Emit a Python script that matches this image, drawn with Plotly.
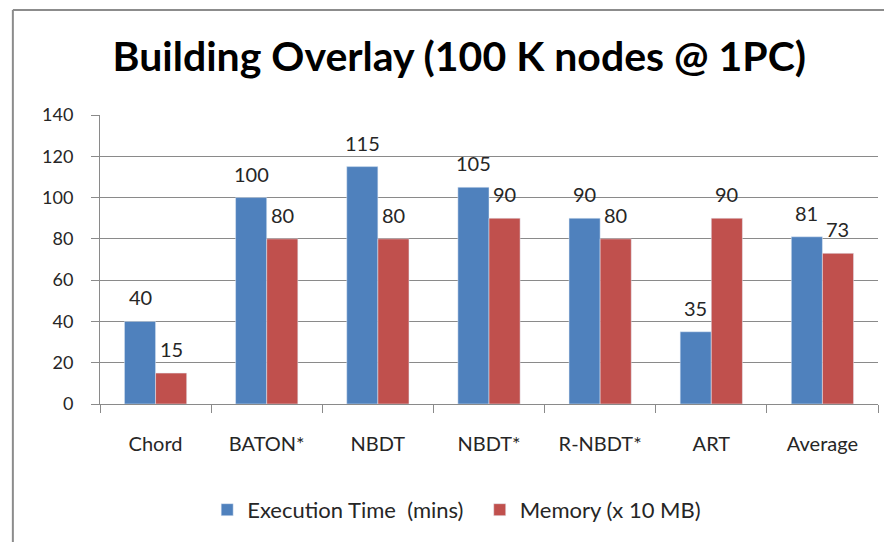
import plotly.graph_objects as go

categories = ["Chord", "BATON*", "NBDT", "NBDT*", "R-NBDT*", "ART", "Average"]
exec_time = [40, 100, 115, 105, 90, 35, 81]
memory = [15, 80, 80, 90, 80, 90, 73]
y_ticks = [0, 20, 40, 60, 80, 100, 120, 140]

font_family = "Lato, Open Sans, sans-serif"
txt = "#262626"
grid = "#8a8a8a"

fig = go.Figure()
fig.add_trace(go.Bar(x=categories, y=exec_time, name="Execution Time  (mins)  ",
                     marker_color="#4F81BD"))
fig.add_trace(go.Bar(x=categories, y=memory, name="Memory (x 10 MB)",
                     marker_color="#C0504D"))

# value labels sit a bit higher above the bars than plotly's outside text
bar_px = 111 * (1 - 0.44) / 2
for series, dx in [(exec_time, -bar_px / 2), (memory, bar_px / 2)]:
    for cat, v in zip(categories, series):
        fig.add_annotation(x=cat, y=v, text=str(v), showarrow=False, xshift=dx, yshift=10,
                           yanchor="bottom", font=dict(size=20, color=txt))

fig.update_layout(
    width=892, height=542,
    paper_bgcolor="white", plot_bgcolor="white",
    font=dict(family=font_family, size=18, color=txt),
    title=dict(text="<b>Building Overlay (100 K nodes @ 1PC)</b>", x=0.506, xanchor="center",
               y=0.91, yanchor="middle", font=dict(size=41, color="black")),
    barmode="group", bargap=0.44, bargroupgap=0,
    margin=dict(l=92, r=22, t=107, b=146, autoexpand=False),
    legend=dict(orientation="h", xref="container", yref="container", x=0.503, xanchor="center",
                y=0.074, yanchor="middle", font=dict(size=22), itemwidth=30),
    shapes=[dict(type="line", xref="paper", yref="paper", x0=-0.112, x1=-0.112, y0=-0.7, y1=1.363,
                 line=dict(color="#8c8c8c", width=2)),
            dict(type="line", xref="paper", yref="paper", x0=-0.112, x1=1.2, y0=1.363, y1=1.363,
                 line=dict(color="#8c8c8c", width=2))],
)
fig.update_yaxes(range=[0, 140], tickvals=y_ticks, showgrid=True, gridcolor=grid, gridwidth=1,
                 showline=True, linecolor=grid, ticks="outside", ticklen=8, tickcolor=grid,
                 zeroline=False, tickfont=dict(size=18), ticklabelstandoff=14, automargin=False)
fig.update_xaxes(showgrid=False, showline=True, linecolor=grid, ticks="outside",
                 tickson="boundaries", ticklen=8, tickcolor=grid, tickfont=dict(size=20),
                 ticklabelstandoff=22, automargin=False)

fig.write_html("out.html")
